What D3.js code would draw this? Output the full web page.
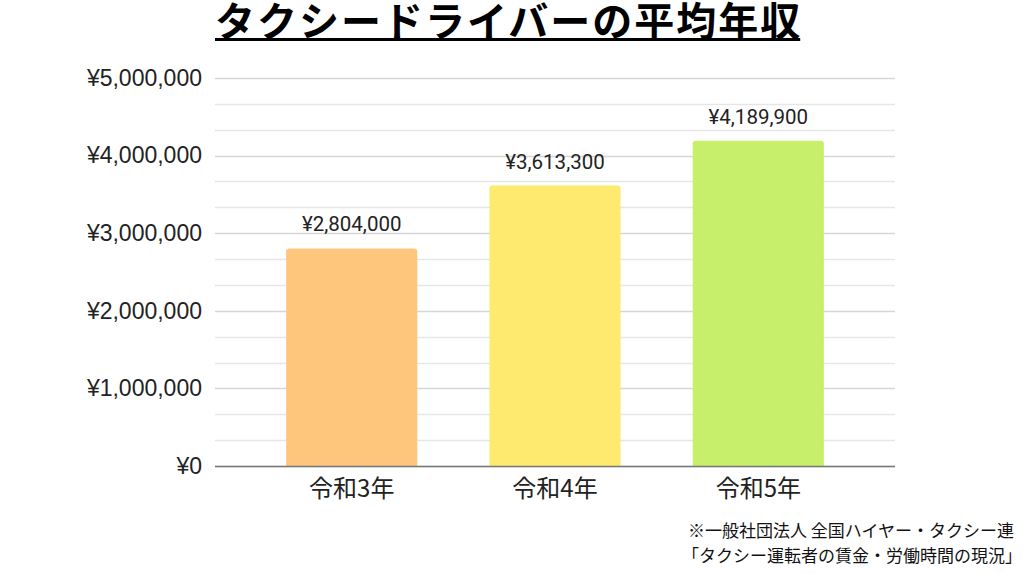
<!DOCTYPE html>
<html>
<head>
<meta charset="utf-8">
<script src="https://cdn.jsdelivr.net/npm/d3@7"></script>
<style>
  body { margin: 0; background: #fff; }
  svg { display: block; }
</style>
</head>
<body>
<div id="chart"></div>
<script>
// data
const years = ["令和3年", "令和4年", "令和5年"];
const salaries = [2804000, 3613300, 4189900];
const barColors = ["#fec67c", "#fdea6e", "#c7ef6b"];
const yTicks = [0, 1000000, 2000000, 3000000, 4000000, 5000000];
const titleText = "タクシードライバーの平均年収";
const noteLines = ["※一般社団法人 全国ハイヤー・タクシー連", "「タクシー運転者の賃金・労働時間の現況」"];

const W = 1024, H = 573;
const margin = {top: 78, right: 129, bottom: 107, left: 215};
const width = W - margin.left - margin.right;
const height = H - margin.top - margin.bottom;

const svg = d3.select("#chart").append("svg")
  .attr("width", W)
  .attr("height", H);

const g = svg.append("g")
  .attr("transform", "translate(" + margin.left + "," + margin.top + ")");

const x = d3.scaleBand()
  .domain(years)
  .range([0, width])
  .paddingInner(0.355)
  .paddingOuter(0.35);

const y = d3.scaleLinear()
  .domain([0, 5000000])
  .range([height, 0]);

const yen = v => "¥" + d3.format(",")(v);

// grid lines, minor every third of a million
const minor = d3.range(0, 5000001, 1000000 / 3);
g.append("g").selectAll("line")
  .data(minor)
  .join("line")
    .attr("x1", 0)
    .attr("x2", width)
    .attr("y1", d => Math.round(y(d)) + 0.5)
    .attr("y2", d => Math.round(y(d)) + 0.5)
    .attr("stroke", d => yTicks.some(t => Math.abs(t - d) < 1) ? "#d6d6d6" : "#e6e6e6")
    .attr("stroke-width", 1.3);

// y axis labels
const yAxis = g.append("g")
  .call(d3.axisLeft(y).tickValues(yTicks).tickFormat(yen).tickSize(0).tickPadding(13));
yAxis.select(".domain").remove();
yAxis.selectAll("text")
  .attr("font-family", "'Liberation Sans', Arial, sans-serif")
  .attr("font-size", 23)
  .attr("fill", "#222");

// bars
g.append("g").selectAll("path")
  .data(salaries)
  .join("path")
    .attr("d", (d, i) => {
      const x0 = x(years[i]), bw = x.bandwidth();
      const y0 = y(d), yb = y(0), r = 3;
      return `M${x0},${yb}V${y0 + r}Q${x0},${y0} ${x0 + r},${y0}H${x0 + bw - r}Q${x0 + bw},${y0} ${x0 + bw},${y0 + r}V${yb}Z`;
    })
    .attr("fill", (d, i) => barColors[i]);

// value labels
g.append("g").selectAll("text")
  .data(salaries)
  .join("text")
    .attr("x", (d, i) => x(years[i]) + x.bandwidth() / 2)
    .attr("y", d => y(d) - 17)
    .attr("text-anchor", "middle")
    .attr("font-family", "Roboto, sans-serif")
    .attr("font-size", 20.5)
    .attr("fill", "#222")
    .text(yen);

// baseline
g.append("line")
  .attr("x1", 0)
  .attr("x2", width)
  .attr("y1", y(0) + 0.5)
  .attr("y2", y(0) + 0.5)
  .attr("stroke", "#777")
  .attr("stroke-width", 1.5);

// x axis labels
const xAxis = g.append("g")
  .attr("transform", "translate(0," + height + ")")
  .call(d3.axisBottom(x).tickSize(0).tickPadding(14));
xAxis.select(".domain").remove();
xAxis.selectAll("text")
  .attr("font-family", "'Noto Sans CJK JP', sans-serif")
  .attr("font-size", 24)
  .attr("fill", "#222");

// title
const title = svg.append("text")
  .attr("x", 215)
  .attr("y", 36)
  .attr("font-family", "'Noto Sans CJK JP', sans-serif")
  .attr("font-weight", "bold")
  .attr("font-size", 40)
  .attr("letter-spacing", 2)
  .attr("fill", "#000")
  .text(titleText);
const tw = title.node().getComputedTextLength() - 2;
svg.append("rect")
  .attr("x", 215)
  .attr("y", 38)
  .attr("width", tw)
  .attr("height", 3)
  .attr("fill", "#000");

// source note
svg.append("g").selectAll("text")
  .data(noteLines)
  .join("text")
    .attr("x", (d, i) => i === 0 ? 688 : 682)
    .attr("y", (d, i) => 537 + i * 25)
    .attr("font-family", "'Noto Sans CJK JP', sans-serif")
    .attr("font-size", 17)
    .attr("fill", "#111")
    .text(d => d);
</script>
</body>
</html>
